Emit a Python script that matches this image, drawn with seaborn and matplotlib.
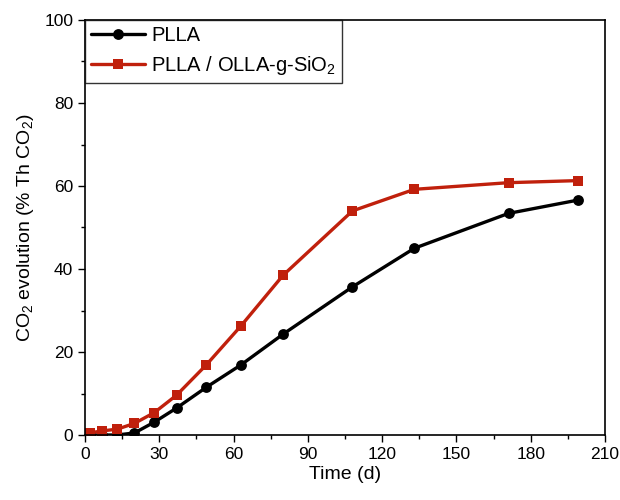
import pandas as pd
import matplotlib.pyplot as plt
import seaborn as sns
from matplotlib.ticker import MultipleLocator

# Data
days = [2, 7, 13, 20, 28, 37, 49, 63, 80, 108, 133, 171, 199]
plla = [0.0, 0.0, 0.0, 0.5, 3.1, 6.5, 11.5, 16.9, 24.3, 35.7, 45.0, 53.4, 56.6]
plla_sio2 = [0.5, 1.0, 1.4, 2.8, 5.4, 9.6, 16.9, 26.3, 38.5, 54.0, 59.2, 60.8, 61.3]

names = ['PLLA', 'PLLA / OLLA-g-SiO$_2$']
df = pd.DataFrame({
    'day': days * 2,
    'co2': plla + plla_sio2,
    'sample': [names[0]] * len(days) + [names[1]] * len(days),
})

sns.set_style("ticks")
plt.rcParams['font.family'] = ['Liberation Sans', 'DejaVu Sans']
plt.rcParams['mathtext.fontset'] = 'custom'
plt.rcParams['mathtext.rm'] = 'Liberation Sans'
plt.rcParams['mathtext.it'] = 'Liberation Sans'
for k in ['text.color', 'axes.labelcolor', 'xtick.color', 'ytick.color', 'axes.edgecolor']:
    plt.rcParams[k] = 'black'

fig = plt.figure(figsize=(6.2, 5), dpi=100)
ax = fig.add_axes([0.137, 0.13, 0.839, 0.83])

sns.lineplot(data=df, x='day', y='co2', hue='sample', style='sample',
             palette=['black', '#C0200C'], markers=['o', 's'], dashes=False,
             linewidth=2.4, markersize=7.8, markeredgewidth=0, ax=ax)

ax.set_xlim(0, 210)
ax.set_ylim(0, 100)
ax.xaxis.set_major_locator(MultipleLocator(30))
ax.xaxis.set_minor_locator(MultipleLocator(15))
ax.yaxis.set_major_locator(MultipleLocator(20))
ax.yaxis.set_minor_locator(MultipleLocator(10))
ax.tick_params(which='major', direction='out', length=5, width=1, labelsize=12.5)
ax.tick_params(which='minor', direction='out', length=3, width=1)
for s in ax.spines.values():
    s.set_visible(True)
    s.set_linewidth(1.2)

ax.set_xlabel('Time (d)', fontsize=14, labelpad=3)
ax.set_ylabel('CO$_2$ evolution (% Th CO$_2$)', fontsize=14, labelpad=6)

leg = ax.legend(loc='upper left', fontsize=14.5, frameon=True, fancybox=False,
                edgecolor='black', borderaxespad=0.0, handlelength=2.7,
                handletextpad=0.3, borderpad=0.3, labelspacing=0.45)
leg.get_frame().set_linewidth(1.0)

plt.savefig('out.png', dpi=100)
